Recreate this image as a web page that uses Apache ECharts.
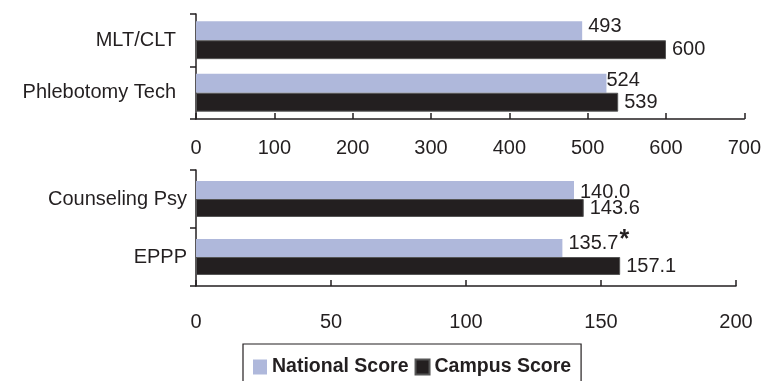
<!DOCTYPE html>
<html>
<head>
<meta charset="utf-8">
<script src="https://cdn.jsdelivr.net/npm/echarts@6/dist/echarts.min.js"></script>
<style>
  html, body { margin: 0; padding: 0; background: #ffffff; }
  #chart { width: 764px; height: 381px; }
</style>
</head>
<body>
<div id="chart"></div>
<script>
// Licensure exam scores: national average vs. campus average
const seriesNames = ['National Score', 'Campus Score'];

// Upper panel (scale 0–700)
const upperCategories = ['MLT/CLT', 'Phlebotomy Tech'];
const upperNational = [493, 524];
const upperCampus = [600, 539];
const upperScale = [0, 700, 100]; // min, max, step

// Lower panel (scale 0–200)
const lowerCategories = ['Counseling Psy', 'EPPP'];
const lowerNational = [140.0, 135.7];
const lowerCampus = [143.6, 157.1];
const lowerNationalNotes = ['', '*'];
const lowerScale = [0, 200, 50];

const INK = '#231F20';
const NATIONAL = '#AFB8DB';
const CAMPUS = '#231F20';
const FONT = '"Liberation Sans", Arial, sans-serif';
const FS = 20;

const axisLine = { show: true, lineStyle: { color: INK, width: 1.5 } };

function valueAxis(gridIndex, scale, margin) {
  return {
    type: 'value', gridIndex,
    min: scale[0], max: scale[1], interval: scale[2],
    axisLine,
    axisTick: { show: true, inside: true, length: 6, lineStyle: { color: INK, width: 1.5 } },
    axisLabel: { color: INK, fontSize: FS, fontFamily: FONT, margin },
    splitLine: { show: false }
  };
}

function categoryAxis(gridIndex, cats, margin) {
  return {
    type: 'category', gridIndex, data: cats, inverse: true,
    axisLine,
    axisTick: { show: true, inside: false, length: 6, lineStyle: { color: INK, width: 1.5 } },
    axisLabel: { color: INK, fontSize: FS, fontFamily: FONT, margin },
    splitLine: { show: false }
  };
}

// label nudges for the national bars (index -> [dx, dy, distance])
const upperNationalNudge = { 0: [0, -4, 6], 1: [0, -3, 0] };
const lowerNationalNudge = { 0: [0, 2, 6], 1: [0, -5, 6] };

function barSeries(name, values, axisIdx, color, opts) {
  const digits = opts.digits;
  const nudge = opts.nudge || {};
  const notes = opts.notes || [];
  return {
    name, type: 'bar',
    xAxisIndex: axisIdx, yAxisIndex: axisIdx,
    barGap: '0%', barCategoryGap: opts.gap,
    itemStyle: opts.border ? { color, borderColor: '#555', borderWidth: 1 } : { color },
    data: values.map((v, i) => {
      const item = { value: v };
      if (nudge[i]) {
        item.label = { offset: [nudge[i][0], nudge[i][1]], distance: nudge[i][2] };
      }
      return item;
    }),
    label: {
      show: true, position: 'right', distance: 6,
      color: INK, fontSize: FS, fontFamily: FONT,
      formatter: p => {
        const txt = p.value.toFixed(digits);
        const note = notes[p.dataIndex];
        return note ? txt + '{n|' + note + '}' : txt;
      },
      rich: {
        n: { fontSize: 25, fontWeight: 'bold', color: INK, fontFamily: FONT, padding: [0, 0, 6, 1] }
      }
    },
    emphasis: { disabled: true }
  };
}

const chart = echarts.init(document.getElementById('chart'), null, { renderer: 'canvas' });
chart.setOption({
  animation: false,
  backgroundColor: '#ffffff',
  textStyle: { fontFamily: FONT },
  grid: [
    { left: 196, right: 19, top: 14, height: 105 },
    { left: 196, right: 28, top: 170, height: 116 }
  ],
  xAxis: [valueAxis(0, upperScale, 19), valueAxis(1, lowerScale, 26)],
  yAxis: [categoryAxis(0, upperCategories, 20), categoryAxis(1, lowerCategories, 9)],
  legend: {
    data: seriesNames,
    left: 243, top: 344,
    padding: [13, 10, 13, 10],
    borderColor: INK, borderWidth: 1.2,
    itemWidth: 14, itemHeight: 15, itemGap: 6,
    icon: 'rect',
    textStyle: { color: INK, fontSize: 19.5, fontWeight: 'bold', fontFamily: FONT }
  },
  series: [
    barSeries(seriesNames[0], upperNational, 0, NATIONAL, { digits: 0, gap: '28%', nudge: upperNationalNudge }),
    barSeries(seriesNames[1], upperCampus, 0, CAMPUS, { digits: 0, gap: '28%', border: true }),
    barSeries(seriesNames[0], lowerNational, 1, NATIONAL, { digits: 1, gap: '38%', nudge: lowerNationalNudge, notes: lowerNationalNotes }),
    barSeries(seriesNames[1], lowerCampus, 1, CAMPUS, { digits: 1, gap: '38%', border: true })
  ]
});
</script>
</body>
</html>
